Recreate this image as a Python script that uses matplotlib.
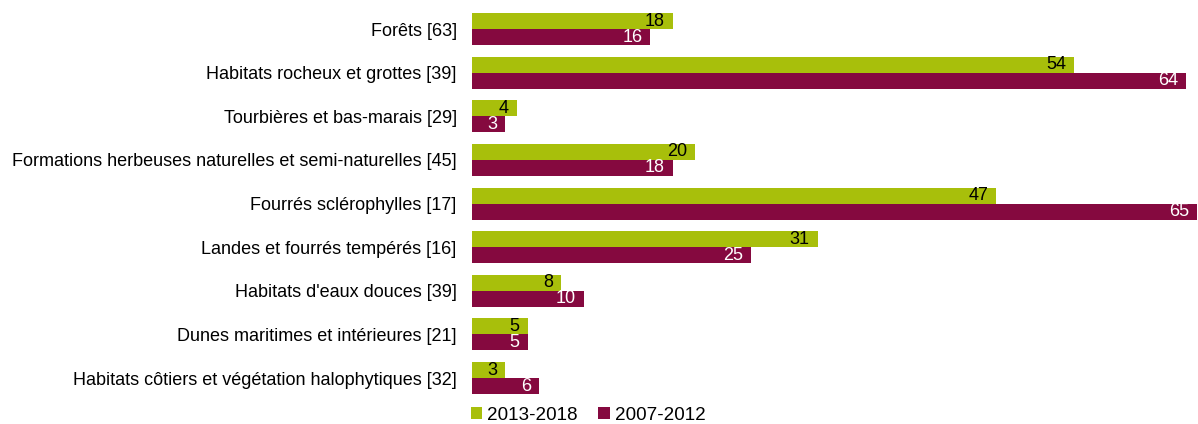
import numpy as np
import matplotlib.pyplot as plt

plt.rcParams['font.family'] = ['Liberation Sans', 'DejaVu Sans']

categories = [
    "Forêts [63]",
    "Habitats rocheux et grottes [39]",
    "Tourbières et bas-marais [29]",
    "Formations herbeuses naturelles et semi-naturelles [45]",
    "Fourrés sclérophylles [17]",
    "Landes et fourrés tempérés [16]",
    "Habitats d'eaux douces [39]",
    "Dunes maritimes et intérieures [21]",
    "Habitats côtiers et végétation halophytiques [32]",
]
serie_2013_2018 = [18, 54, 4, 20, 47, 31, 8, 5, 3]
serie_2007_2012 = [16, 64, 3, 18, 65, 25, 10, 5, 6]
noms_series = ["2013-2018", "2007-2012"]

vert = "#a8bf0b"
bordeaux = "#85093f"

W, H = 1198, 424
fig = plt.figure(figsize=(W / 100, H / 100), dpi=100)
ax = fig.add_axes([472 / W, 24 / H, 725 / W, 400 / H])

y = np.arange(len(categories))
h = 16 / 43.625

b1 = ax.barh(y - h / 2, serie_2013_2018, height=h, color=vert, label=noms_series[0])
b2 = ax.barh(y + h / 2, serie_2007_2012, height=h, color=bordeaux, label=noms_series[1])

for barres, couleur in [(b1, "black"), (b2, "white")]:
    for r in barres:
        v = r.get_width()
        ax.annotate(str(int(v)), (v, r.get_y() + r.get_height() / 2),
                    xytext=(-8, 0), textcoords="offset pixels",
                    ha="right", va="center", fontsize=13, color=couleur)

ax.set_xlim(0, 65)
ax.set_ylim(8.504, -0.665)
ax.set_yticks(y)
ax.set_yticklabels(categories, fontsize=13)
ax.tick_params(axis="y", length=0, pad=11)
ax.set_xticks([])
for s in ax.spines.values():
    s.set_visible(False)

fig.legend(handles=[b1, b2], loc="upper left", bbox_to_anchor=(471 / W, 17 / H),
           ncol=2, frameon=False, fontsize=13.6, handlelength=0.6, handleheight=0.6,
           handletextpad=0.25, columnspacing=1.1, borderpad=0, borderaxespad=0)

fig.savefig("out.png", dpi=100)
